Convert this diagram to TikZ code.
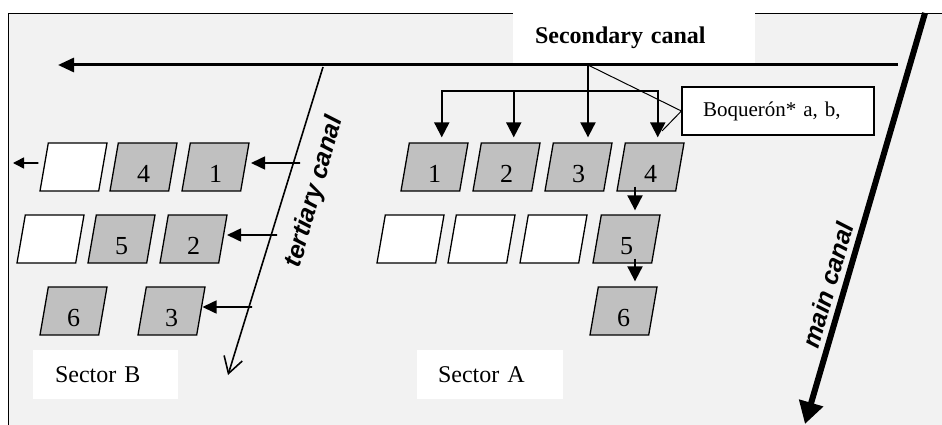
\documentclass[tikz,border=0pt]{standalone}
\usepackage{fontspec}
\setmainfont{Liberation Serif}
\setsansfont{Liberation Sans}
\usetikzlibrary{shapes.geometric,arrows.meta}
\definecolor{plotgray}{RGB}{192,192,192}
\definecolor{fieldgray}{RGB}{242,242,242}
\begin{document}
\begin{tikzpicture}[x=1pt,y=1pt,
		plot/.style={trapezium,trapezium left angle=75,trapezium right angle=105,trapezium stretches body,draw=black,line width=1.3pt,fill=plotgray,minimum width=67pt,minimum height=48pt,inner sep=0pt,text height=31pt,text depth=0pt,font=\fontsize{26}{26}\selectfont},
		plotw/.style={plot,fill=white},
		lablbox/.style={fill=white,align=left,inner ysep=0pt,font=\fontsize{24}{24}\selectfont},
		canallab/.style={inner sep=0pt,font=\sffamily\bfseries\itshape\fontsize{25}{25}\selectfont},
		lat/.style={line width=1.6pt,-{Triangle[length=14pt,width=13pt]}},
		dist/.style={line width=2pt,-{Triangle[length=15pt,width=15pt]}}]
			\useasboundingbox (0,0) rectangle (942,424);
			\clip (0,0) rectangle (942,424);
			\fill[fieldgray] (8.5,-10) rectangle (960,410.5);
			\draw[line width=1.5pt] (960,410.5) -- (8.5,410.5) -- (8.5,-10);
			\node[lablbox,font=\bfseries\fontsize{24}{24}\selectfont,text width=198pt,inner xsep=22pt,minimum height=50pt] (sec) at (634,386) {Secondary canal};
			\node[lablbox,draw=black,line width=1.2pt,text width=150pt,inner xsep=21pt,minimum height=48pt,font=\fontsize{21}{21}\selectfont] (boq) at (778,313) {Boquerón* a, b,};
			\node[lablbox,text width=101pt,inner xsep=22pt,minimum height=49pt] (secB) at (105.5,49.5) {Sector B};
			\node[lablbox,text width=104pt,inner xsep=21pt,minimum height=49pt] (secA) at (490,49.5) {Sector A};
			\node[plot] (a1) at (434.5,257) {1};
			\node[plot] (a2) at (506.5,257) {2};
			\node[plot] (a3) at (578.5,257) {3};
			\node[plot] (a4) at (650.5,257) {4};
			\node[plotw] (aw1) at (410.5,185) {};
			\node[plotw] (aw2) at (481.5,185) {};
			\node[plotw] (aw3) at (553.5,185) {};
			\node[plot] (a5) at (626.5,185) {5};
			\node[plot] (a6) at (623.5,113) {6};
			\node[plotw] (bw1) at (73.5,257) {};
			\node[plot] (b4) at (143.5,257) {4};
			\node[plot] (b1) at (215.5,257) {1};
			\node[plotw] (bw2) at (50.5,185) {};
			\node[plot] (b5) at (121.5,185) {5};
			\node[plot] (b2) at (193.5,185) {2};
			\node[plot] (b6) at (73.5,113) {6};
			\node[plot] (b3) at (171.5,113) {3};
			\coordinate (secin) at (898,359);
			\coordinate (secout) at (58,359);
			\coordinate (tap) at (588,359);
			\coordinate (split) at (588,333);
			\coordinate (boqtip) at (662,293);
			\coordinate (tertin) at (323,357);
			\coordinate (tertout) at (228,49);
			\coordinate (t1) at (300,261);
			\coordinate (t2) at (277,189);
			\coordinate (t3) at (252,117);
			\coordinate (bout) at (13,261);
			\coordinate (mainin) at (925,411);
			\coordinate (mainout) at (805,0);
			\draw[line width=3pt,-{Triangle[length=16pt,width=14pt]}] (secin) -- (secout);
			\draw[line width=2pt] (tap) -- (split);
			\draw[dist] (split) -| ([xshift=3pt,yshift=5pt]a1.top side);
			\draw[dist] (split) -| ([xshift=3pt,yshift=5pt]a2.top side);
			\draw[dist] (split) -- ([yshift=5pt]split |- a3.top side);
			\draw[dist] (split) -| ([xshift=3pt,yshift=5pt]a4.top side);
			\draw[line width=1pt] (tap) -- (boq.west) -- (boqtip);
			\draw[dist] ([xshift=-15.5pt,yshift=5pt]a4.south) -- ([xshift=8.5pt,yshift=4pt]a5.north);
			\draw[dist] ([xshift=8.5pt,yshift=5pt]a5.south) -- ([xshift=11.5pt,yshift=5pt]a6.north);
			\draw[line width=1.6pt,-{Straight Barb[length=16pt,width=19pt]}] (tertin) -- (tertout);
			\draw[lat] (t1) -- ([xshift=5.5pt,yshift=4pt]b1.east);
			\draw[lat] (t2) -- ([xshift=3.5pt,yshift=4pt]b2.east);
			\draw[lat] (t3) -- ([xshift=1pt,yshift=4pt]b3.east);
			\draw[lat,-{Triangle[length=11pt,width=11pt]}] ([xshift=-5pt,yshift=4pt]bw1.west) -- (bout);
			\draw[line width=6pt,-{Triangle[length=22pt,width=24pt]}] (mainin) -- (mainout);
			\node[canallab,rotate=74] (mainlab) at (828,139) {main canal};
			\node[canallab,rotate=74] (tertlab) at (315,232) {tertiary canal};
		\end{tikzpicture}
\end{document}
